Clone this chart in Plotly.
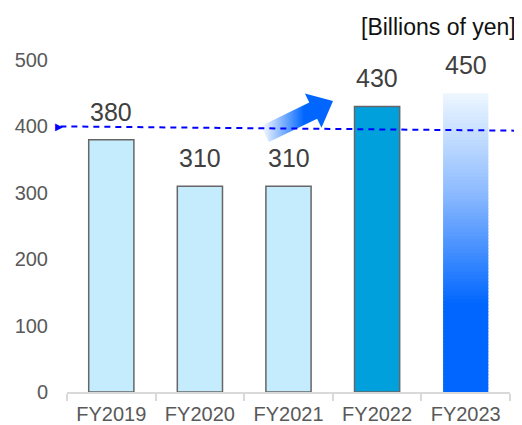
import numpy as np
import plotly.graph_objects as go

years = ["FY2019", "FY2020", "FY2021", "FY2022", "FY2023"]
values = [380, 310, 310, 430, 450]
bar_colors = ["#C5ECFC", "#C5ECFC", "#C5ECFC", "#00A0DC"]
unit_label = "[Billions of yen]"
y_ticks = [0, 100, 200, 300, 400, 500]

# gradient stops for the FY2023 (forecast) bar: value -> colour
grad_vals = [0, 130, 300, 450]
grad_rgb = [(0, 102, 255), (0, 102, 255), (141, 187, 255), (238, 247, 255)]


def grad_color(v):
    r = np.interp(v, grad_vals, [c[0] for c in grad_rgb])
    g = np.interp(v, grad_vals, [c[1] for c in grad_rgb])
    b = np.interp(v, grad_vals, [c[2] for c in grad_rgb])
    return f"rgb({int(r)},{int(g)},{int(b)})"


fig = go.Figure()

# actual years
fig.add_trace(go.Bar(
    x=years[:4], y=values[:4], width=0.51,
    marker=dict(color=bar_colors, line=dict(color="#666666", width=1.5)),
    hoverinfo="skip",
))

# forecast year as a stack of thin slices to fake a vertical gradient
# (slices overlap a little so no seams show)
step = 5
bases = np.arange(0, values[4], step)
heights = [min(step + 2, values[4] - b) for b in bases]
fig.add_trace(go.Bar(
    x=[years[4]] * len(bases), y=heights, base=bases, width=0.51,
    marker=dict(color=[grad_color(b + step / 2) for b in bases], line=dict(width=0)),
    hoverinfo="skip",
))

for yr, v in zip(years, values):
    fig.add_annotation(x=yr, y=v, text=str(v), showarrow=False, yanchor="bottom",
                       yshift=12, font=dict(size=25, color="#404040"))

# dashed reference line with a small arrow tip on the left
fig.add_shape(type="line", xref="paper", yref="y", x0=-0.015, x1=1.03, y0=400, y1=393.5,
              line=dict(color="#0000FF", width=2, dash="6px,5px"))
fig.add_annotation(xref="paper", yref="y", x=-0.032, y=400, text="\u25B6", showarrow=False,
                   font=dict(size=10, color="#0000FF"))

# gradient arrow, drawn in page-pixel space on an overlay axis
tail = np.array([265.0, 134.0])
tip = np.array([333.0, 101.0])
u = (tip - tail) / np.linalg.norm(tip - tail)
n = np.array([-u[1], u[0]])
if n[1] < 0:
    n = -n
base = tip - 22 * u
pts = [tail - 9 * n, base - 9 * n, base - 19 * n, tip, base + 19 * n, base + 9 * n, tail + 9 * n, tail - 9 * n]
fig.add_trace(go.Scatter(
    x=[p[0] for p in pts], y=[p[1] for p in pts], xaxis="x2", yaxis="y2",
    mode="lines", line=dict(width=0), fill="toself",
    fillgradient=dict(type="horizontal",
                      colorscale=[[0, "rgba(255,255,255,1)"], [0.6, "#0066FF"], [1, "#0066FF"]]),
    hoverinfo="skip",
))

fig.add_annotation(xref="paper", yref="paper", x=1.017, y=1.1, text=unit_label,
                   showarrow=False, xanchor="right", yanchor="middle",
                   font=dict(size=23, color="#111111"))

# page body has an 8px margin, so the figure is 8px smaller than the window
fig.update_layout(
    width=514, height=417,
    margin=dict(l=59, r=12, t=52, b=33),
    paper_bgcolor="white", plot_bgcolor="white",
    barmode="overlay", showlegend=False,
    font=dict(family="Liberation Sans, Arial, sans-serif", color="#595959"),
    xaxis=dict(type="category", categoryarray=years, range=[-0.5, 4.5], automargin=False,
               showline=True, linecolor="#D9D9D9", linewidth=2,
               ticks="outside", tickson="boundaries", ticklen=7, tickcolor="#D9D9D9", tickwidth=2,
               ticklabelstandoff=3,
               tickfont=dict(size=20, color="#595959"), showgrid=False),
    yaxis=dict(range=[0, 500], tickvals=y_ticks, showgrid=False, zeroline=False, automargin=False,
               showline=False, ticklabelstandoff=18,
               tickfont=dict(size=20, color="#595959")),
    xaxis2=dict(overlaying="x", range=[67, 510], visible=False),
    yaxis2=dict(overlaying="y", range=[392, 60], visible=False),
)

fig.write_html("out.html")
